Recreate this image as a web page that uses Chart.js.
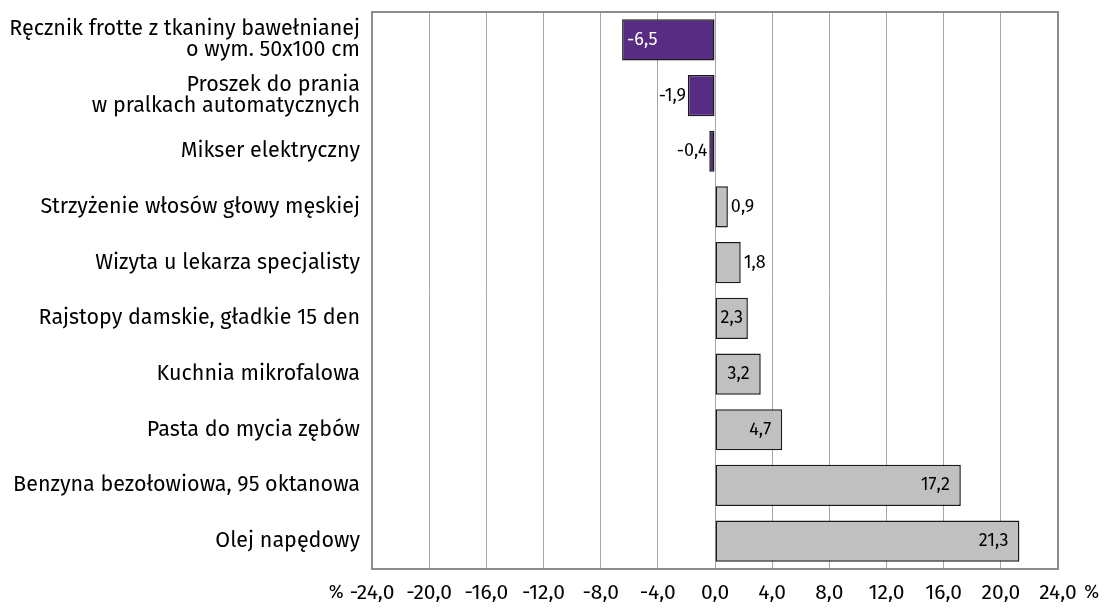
<!DOCTYPE html>
<html>
<head>
<meta charset="utf-8">
<script src="https://cdn.jsdelivr.net/npm/chart.js@4/dist/chart.umd.min.js"></script>
<style>
html, body { margin: 0; padding: 0; background: #fff; }
#wrap { width: 1104px; height: 608px; }
</style>
</head>
<body>
<div id="wrap"><canvas id="PriceChart"></canvas></div>
<script>
//-------------------------------------------------- Data
const categories = [
	["Ręcznik frotte z tkaniny bawełnianej", "o wym. 50x100 cm"],
	["Proszek do prania", "w pralkach automatycznych"],
	"Mikser elektryczny",
	"Strzyżenie włosów głowy męskiej",
	"Wizyta u lekarza specjalisty",
	"Rajstopy damskie, gładkie 15 den",
	"Kuchnia mikrofalowa",
	"Pasta do mycia zębów",
	"Benzyna bezołowiowa, 95 oktanowa",
	"Olej napędowy"
];
const changes = [-6.5, -1.9, -0.4, 0.9, 1.8, 2.3, 3.2, 4.7, 17.2, 21.3];
const axisMin = -24, axisMax = 24, axisStep = 4;
//^^^^^^^^^^^^^^^^^^^^^^^^^^^^^^^^^^^^^^^^^^^^^^^^^^ Data

const FONT = "'Fira Sans', 'Noto Sans', sans-serif";
const PURPLE = "#582c83";
const GREY = "#c0c0c0";
const fmt = v => v.toFixed(1).replace(".", ",");

//-------------------------------------------------- Plugins
const frameAndLabels = {
	id: "frameAndLabels",
	afterDatasetsDraw(chart) {
		const ctx = chart.ctx, a = chart.chartArea;
		ctx.save();
		ctx.strokeStyle = "#8c8c8c";
		ctx.lineWidth = 2;
		ctx.strokeRect(a.left, a.top, a.right - a.left, a.bottom - a.top);

		ctx.font = "18px " + FONT;
		ctx.textBaseline = "middle";
		chart.getDatasetMeta(0).data.forEach((bar, i) => {
			const v = changes[i], txt = fmt(v);
			const w = ctx.measureText(txt).width;
			const barW = Math.abs(bar.x - bar.base);
			const inside = barW > w + 8;
			const gap = Math.min(11, (barW - w) / 2);
			if (v < 0) {
				if (inside) { ctx.fillStyle = "#fff"; ctx.textAlign = "left"; ctx.fillText(txt, bar.x + 5, bar.y); }
				else { ctx.fillStyle = "#000"; ctx.textAlign = "right"; ctx.fillText(txt, bar.x - 2, bar.y); }
			} else {
				ctx.fillStyle = "#000";
				if (inside) { ctx.textAlign = "right"; ctx.fillText(txt, bar.x - gap, bar.y); }
				else { ctx.textAlign = "left"; ctx.fillText(txt, bar.x + 3, bar.y); }
			}
		});

		// % signs next to first and last tick
		const xs = chart.scales.x;
		ctx.font = "21px " + FONT;
		ctx.fillStyle = "#000";
		const y = a.bottom + 24;
		const half = ctx.measureText(fmt(axisMin)).width / 2;
		ctx.font = "18px " + FONT;
		ctx.textAlign = "right";
		ctx.fillText("%", xs.getPixelForValue(axisMin) - half - 6, y);
		ctx.textAlign = "left";
		ctx.fillText("%", xs.getPixelForValue(axisMax) + half + 4, y);
		ctx.restore();
	}
};
//^^^^^^^^^^^^^^^^^^^^^^^^^^^^^^^^^^^^^^^^^^^^^^^^^^ Plugins

new Chart(document.getElementById("PriceChart").getContext("2d"), {
	type: "bar",
	data: {
		labels: categories,
		datasets: [{
			data: changes,
			backgroundColor: changes.map(v => v < 0 ? PURPLE : GREY),
			borderColor: "#1a1a1a",
			borderWidth: 1.5,
			borderSkipped: false,
			barPercentage: 0.74,
			categoryPercentage: 1
		}]
	},
	options: {
		indexAxis: "y",
		responsive: true,
		maintainAspectRatio: false,
		animation: false,
		layout: { padding: { top: 12, right: 46, bottom: 0, left: 0 } },
		plugins: { legend: { display: false }, tooltip: { enabled: false } },
		scales: {
			x: {
				min: axisMin, max: axisMax,
				ticks: {
					stepSize: axisStep,
					color: "#000",
					font: { family: FONT, size: 21 },
					padding: 12,
					maxRotation: 0,
					callback: v => fmt(v)
				},
				grid: { color: "#a6a6a6", lineWidth: 1, drawTicks: false },
				border: { display: false },
				afterFit: s => { s.height = 39; s.paddingLeft = 0; s.paddingRight = 0; }
			},
			y: {
				ticks: {
					color: "#000",
					font: { family: FONT, size: 21.5, lineHeight: 0.97 },
					padding: 12
				},
				grid: { display: false, drawTicks: false },
				border: { display: false },
				afterFit: s => { s.width = 372; s.paddingTop = 0; s.paddingBottom = 0; }
			}
		}
	},
	plugins: [frameAndLabels]
});
</script>
</body>
</html>
